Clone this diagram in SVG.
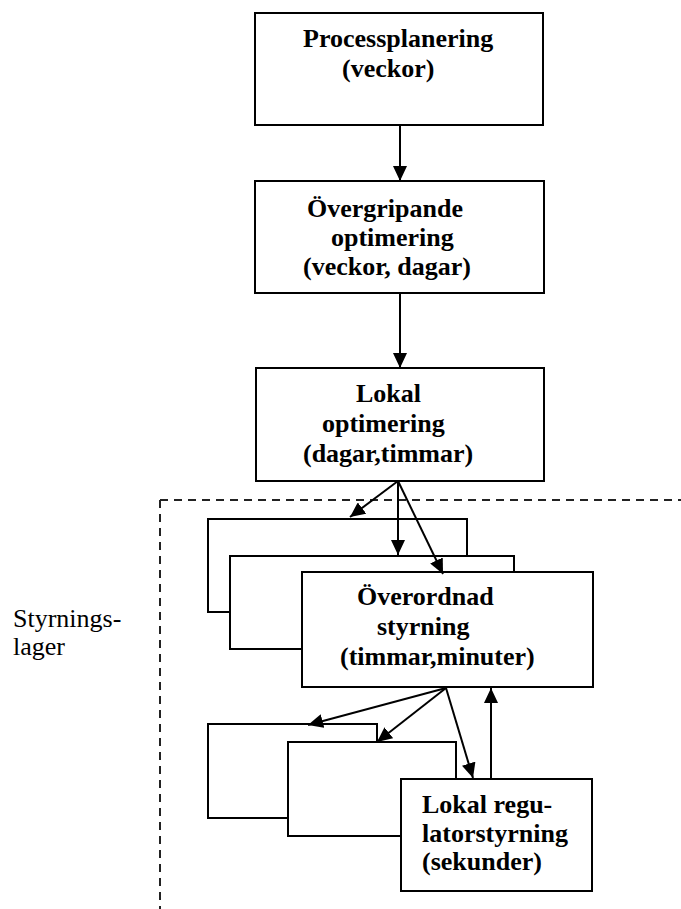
<svg xmlns="http://www.w3.org/2000/svg" width="681" height="909" viewBox="0 0 681 909">
<style>
.box{fill:#fff;stroke:#000;stroke-width:2}
text{font-family:'Liberation Serif','DejaVu Serif',serif;font-size:26px;fill:#000}
.t{font-weight:bold}
.c{stroke:#000;stroke-width:2;fill:none;marker-end:url(#ah)}
.dash{stroke:#222;stroke-width:2;fill:none;stroke-dasharray:8 6}
</style>
<defs>
<marker id="ah" markerUnits="userSpaceOnUse" markerWidth="16" markerHeight="14" refX="15" refY="7" orient="auto">
<path d="M0,0 L15,7 L0,14 Z" fill="#000"/>
</marker>
</defs>
<rect width="681" height="909" fill="#fff"/>
<path class="dash" d="M160,500 H681 M160,500 V909"/>
<g id="label-styrningslager">
<text font-family="Liberation Serif, serif" x="13" y="627">Styrnings-</text>
<text font-family="Liberation Serif, serif" x="13" y="655">lager</text>
</g>
<g id="processplanering">
<rect class="box" x="255" y="13" width="288" height="112"/>
<text class="t" font-family="Liberation Serif, serif" x="303" y="47">Processplanering</text>
<text class="t" font-family="Liberation Serif, serif" x="342" y="77">(veckor)</text>
</g>
<g id="overgripande">
<rect class="box" x="255" y="181" width="289" height="112"/>
<text class="t" font-family="Liberation Serif, serif" x="307" y="217">Övergripande</text>
<text class="t" font-family="Liberation Serif, serif" x="331" y="246">optimering</text>
<text class="t" font-family="Liberation Serif, serif" x="303" y="275">(veckor, dagar)</text>
</g>
<g id="lokal-optimering">
<rect class="box" x="256" y="368" width="288" height="113"/>
<text class="t" font-family="Liberation Serif, serif" x="356" y="402">Lokal</text>
<text class="t" font-family="Liberation Serif, serif" x="322" y="432">optimering</text>
<text class="t" font-family="Liberation Serif, serif" x="303" y="462">(dagar,timmar)</text>
</g>
<g id="stack-back-1"><rect class="box" x="208" y="519" width="259" height="93"/></g>
<g id="stack-back-2"><rect class="box" x="230" y="556" width="284" height="93"/></g>
<g id="overordnad">
<rect class="box" x="302" y="572" width="291" height="115"/>
<text class="t" font-family="Liberation Serif, serif" x="357" y="605">Överordnad</text>
<text class="t" font-family="Liberation Serif, serif" x="377" y="635">styrning</text>
<text class="t" font-family="Liberation Serif, serif" x="340" y="665">(timmar,minuter)</text>
</g>
<g id="lower-back-1"><rect class="box" x="208" y="724" width="169" height="94"/></g>
<g id="lower-back-2"><rect class="box" x="288" y="742" width="168" height="94"/></g>
<g id="lokal-regulator">
<rect class="box" x="401" y="779" width="191" height="112"/>
<text class="t" font-family="Liberation Serif, serif" x="422" y="813">Lokal regu-</text>
<text class="t" font-family="Liberation Serif, serif" x="422" y="842">latorstyrning</text>
<text class="t" font-family="Liberation Serif, serif" x="422" y="870">(sekunder)</text>
</g>
<g id="connectors">
<path class="c" d="M400,125 V181"/>
<path class="c" d="M400,293 V368"/>
<path class="c" d="M398,481 L350,517"/>
<path class="c" d="M398,481 V555"/>
<path class="c" d="M398,481 L443,574"/>
<path class="c" d="M446,688 L308,725"/>
<path class="c" d="M446,688 L377,742"/>
<path class="c" d="M446,688 L473,778"/>
<path class="c" d="M491,779 V688"/>
</g>
</svg>
